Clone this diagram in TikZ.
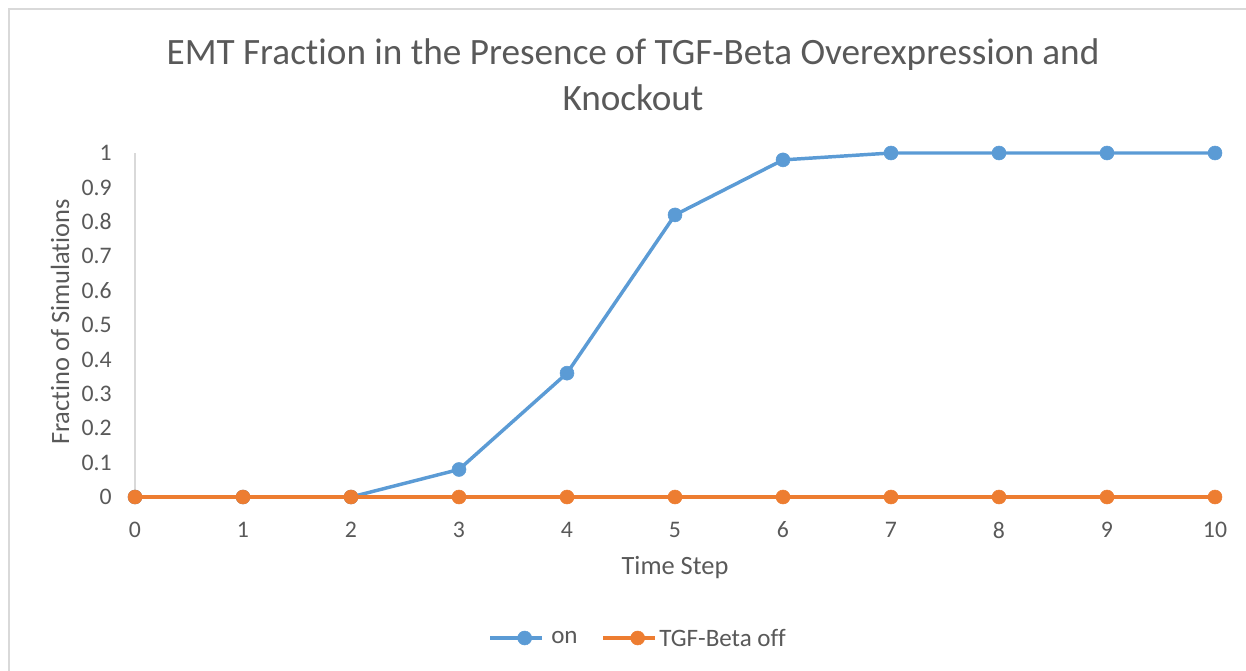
\documentclass[tikz,border=0pt]{standalone}
\usepackage{fontspec}
\setmainfont{Carlito}[Ligatures=NoCommon]
\usetikzlibrary{positioning}

\definecolor{framegray}{HTML}{D9D9D9}
\definecolor{textgray}{HTML}{595959}
\definecolor{onblue}{HTML}{5B9BD5}
\definecolor{offorange}{HTML}{ED7D31}

\tikzset{
  ticklabel/.style={text=textgray,inner sep=0.75pt,font=\fontsize{17.8}{20}\selectfont},
  axistitle/.style={text=textgray,inner sep=0.75pt,font=\fontsize{19.8}{22}\selectfont},
  legendlabel/.style={text=textgray,inner sep=0.75pt,font=\fontsize{18.8}{21}\selectfont},
  series/.style={line width=2.6pt,line cap=round,line join=round},
  marker/.style={circle,fill=#1,draw=#1,inner sep=0pt,minimum size=10.5pt}
}

\begin{document}
\begin{tikzpicture}[x=0.75pt,y=0.75pt,yscale=-1,xscale=1]
\useasboundingbox (0,0) rectangle (1246,671);
% chart frame, cut at the right and bottom
\draw [framegray,line width=1.5pt] (9,671) -- (9,9) -- (1246,9) ;
% title
\node [text=textgray,font=\fontsize{27.9}{34.6}\selectfont,align=center] (title) at (633,75)
  {EMT Fraction in the Presence of TGF-Beta Overexpression and\\Knockout};
% axes
\draw [framegray,line width=1.5pt] (135,153) -- (135,497) ;
\draw [framegray,line width=1.5pt] (135,497) -- (1215,497) ;
\foreach \k in {0,...,10}{
  \pgfmathsetmacro{\yy}{497-34.4*\k}
  \pgfmathsetmacro{\lab}{\k==10 ? "1" : (\k==0 ? "0" : "0.\k")}
  \node [ticklabel,anchor=east] (ytick\k) at (113,\yy) {\lab};
  \node [ticklabel] (xtick\k) at (135+108*\k,530) {\k};
}
\node [axistitle] (xtitle) at (675,568) {Time Step};
\node [axistitle,rotate=90] (ytitle) at (60,322) {Fractino of Simulations};
% data points
\foreach \i/\v in {0/0,1/0,2/0,3/0.08,4/0.36,5/0.82,6/0.98,7/1,8/1,9/1,10/1}
  \coordinate (on\i) at (135+108*\i,497-344*\v);
\foreach \i in {0,...,10}
  \coordinate (off\i) at (135+108*\i,497);
% TGF-Beta on
\draw [series,onblue] (on0) \foreach \i in {1,...,10}{ -- (on\i) } ;
\foreach \i in {0,...,10} \node [marker=onblue] at (on\i) {};
% TGF-Beta off
\draw [series,offorange] (off0) \foreach \i in {1,...,10}{ -- (off\i) } ;
\foreach \i in {0,...,10} \node [marker=offorange] at (off\i) {};
% legend
\coordinate (legon) at (490,638);
\coordinate (legoff) at (603,638);
\draw [series,onblue,line cap=butt] (legon) -- ++(52,0) ;
\node [marker=onblue] at ([xshift=26]legon) {};
\node [legendlabel,anchor=west] (onlabel) at (550,638) {on};
\draw [series,offorange,line cap=butt] (legoff) -- ++(52,0) ;
\node [marker=offorange] at ([xshift=26]legoff) {};
\node [legendlabel,anchor=west] (offlabel) at (658,638) {TGF-Beta off};
\end{tikzpicture}
\end{document}
